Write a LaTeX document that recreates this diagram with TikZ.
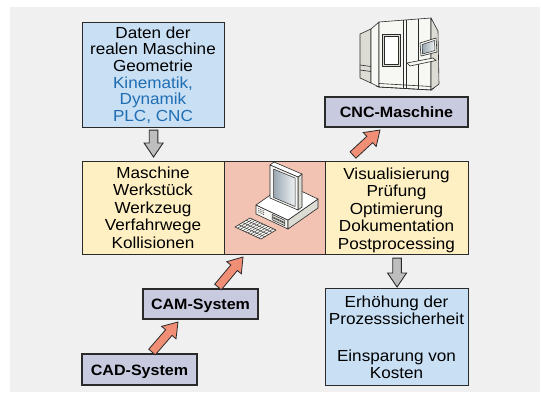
\documentclass[tikz,border=0pt]{standalone}
\usepackage{fontspec}
\setmainfont{Liberation Sans}[FakeStretch=1.07]
\usetikzlibrary{calc}

\definecolor{bgGray}{HTML}{F0F0F0}
\definecolor{infoBlue}{HTML}{C8DFF4}
\definecolor{textBlue}{HTML}{1F6EB4}
\definecolor{taskYellow}{HTML}{FEF0C3}
\definecolor{pcPink}{HTML}{F2C3B2}
\definecolor{sysLilac}{HTML}{C8CADF}
\definecolor{flowOrange}{HTML}{F08F76}
\definecolor{flowGray}{HTML}{BEBEBE}
\definecolor{edge}{HTML}{2A2A2A}
\definecolor{iconWhite}{HTML}{F7F7F3}
\definecolor{iconSide}{HTML}{DCDCD4}
\definecolor{glassDark}{HTML}{9AA6B0}
\definecolor{glassLight}{HTML}{EEF2F4}

% fat block arrow from #2 to #3 with style #1
\newcommand\blockarrow[3]{%
  \draw[#1] let \p1=($(#3)-(#2)$), \n1={atan2(\y1,\x1)} in
    ($(#2)+({\n1+90}:4.3pt)$)
    -- ($(#3)!14pt!(#2)+({\n1+90}:4.3pt)$)
    -- ($(#3)!14pt!(#2)+({\n1+90}:9.5pt)$)
    -- (#3)
    -- ($(#3)!14pt!(#2)+({\n1-90}:9.5pt)$)
    -- ($(#3)!14pt!(#2)+({\n1-90}:4.3pt)$)
    -- ($(#2)+({\n1-90}:4.3pt)$) -- cycle;}

\tikzset{
  box/.style={draw=edge, line width=1.1pt, inner sep=0pt, anchor=north west},
  txt/.style={inner sep=0pt, align=center, anchor=north,
              font=\fontsize{16pt}{16.6pt}\selectfont},
  txtwide/.style={txt, font=\fontsize{16pt}{17.5pt}\selectfont},
  sysbox/.style={draw=edge, line width=1.1pt, fill=sysLilac, inner sep=0pt,
                 font=\bfseries\fontsize{15pt}{17pt}\selectfont,
                 text height=11pt, text depth=0pt},
  orangeflow/.style={fill=flowOrange, draw=edge, line width=0.8pt, line join=miter},
  grayflow/.style={fill=flowGray, draw=edge, line width=0.9pt, line join=miter},
  icon/.style={draw=edge, line width=0.6pt, line join=round},
}

\begin{document}
\begin{tikzpicture}[x=1pt,y=-1pt]
\useasboundingbox (0,0) rectangle (541,392);
\fill[bgGray] (10,7) rectangle (539.5,392);

% ---------- boxes ----------
\node[box, fill=infoBlue, minimum width=142pt, minimum height=105pt] (daten) at (82,22) {};
\node[txt] (datenTxt) at (153,26.5) {Daten der\\realen Maschine\\Geometrie\\
  \textcolor{textBlue}{Kinematik,}\\\textcolor{textBlue}{Dynamik}\\\textcolor{textBlue}{PLC, CNC}};

\node[box, fill=taskYellow, minimum width=142pt, minimum height=93pt] (modell) at (82,161) {};
\node[txtwide] (modellTxt) at (153,166.3) {Maschine\\Werkstück\\Werkzeug\\Verfahrwege\\Kollisionen};

\node[box, fill=pcPink, minimum width=101pt, minimum height=93pt] (pc) at (224,161) {};

\node[box, fill=taskYellow, minimum width=143pt, minimum height=93pt] (nutzen) at (325,161) {};
\node[txtwide] (nutzenTxt) at (396.5,167.3) {Visualisierung\\Prüfung\\Optimierung\\Dokumentation\\Postprocessing};

\node[box, fill=infoBlue, minimum width=143pt, minimum height=97pt] (ergebnis) at (325,288) {};
\node[txt, font=\fontsize{16pt}{17pt}\selectfont] (ergebnisTxt) at (396.5,295.5)
  {Erhöhung der\\Prozesssicherheit\\[20pt]Einsparung von\\Kosten};

\node[sysbox, minimum width=143pt, minimum height=30pt] (cnc) at (396.5,112) {CNC-Maschine};
\node[sysbox, minimum width=115pt, minimum height=30pt] (cam) at (200.5,304) {CAM-System};
\node[sysbox, minimum width=115pt, minimum height=31pt] (cad) at (139.5,369.5) {CAD-System};

% ---------- flow arrows ----------
\coordinate (g1a) at ($(daten.south)+(0,2)$);
\coordinate (g1b) at ($(modell.north)+(0,-4)$);
\blockarrow{grayflow}{g1a}{g1b}
\coordinate (g2a) at ($(nutzen.south)+(0,3)$);
\coordinate (g2b) at ($(ergebnis.north)+(0,-1)$);
\blockarrow{grayflow}{g2a}{g2b}

\coordinate (o1a) at (353,155);
\coordinate (o1b) at (380,130);
\blockarrow{orangeflow}{o1a}{o1b}
\coordinate (o2a) at (218,287);
\coordinate (o2b) at (243,257);
\blockarrow{orangeflow}{o2a}{o2b}
\coordinate (o3a) at (152,352);
\coordinate (o3b) at (178,322);
\blockarrow{orangeflow}{o3a}{o3b}

% ---------- computer ----------
\begin{scope}[icon]
  % keyboard
  \coordinate (kT) at (250,218);
  \coordinate (kL) at (235,227);
  \coordinate (kR) at (276,230);
  \coordinate (kF) at (261,239);
  \filldraw[fill=iconWhite] (kT) -- (kR) -- (kF) -- (kL) -- cycle;
  \foreach \f in {0.25,0.5,0.75}
    \draw[line width=0.4pt] ($(kT)!\f!(kL)$) -- ($(kR)!\f!(kF)$);
  \foreach \f in {0.1,0.2,...,0.9}
    \draw[line width=0.4pt] ($(kT)!\f!(kR)$) -- ($(kL)!\f!(kF)$);
  % case
  \filldraw[fill=iconWhite] (256,205) -- (288,220) -- (288,229) -- (256,214) -- cycle;
  \filldraw[fill=iconSide] (288,220) -- (318,199) -- (318,208) -- (288,229) -- cycle;
  \filldraw[fill=white] (256,205) -- (286,184) -- (318,199) -- (288,220) -- cycle;
  \foreach \s in {0.07,0.12,0.17,0.22}
    \foreach \t in {0.25,0.45,0.65}
      \draw[line width=0.5pt] ({256+32*\s},{205+15*\s+9*\t}) -- ({256+32*(\s+0.03)},{205+15*(\s+0.03)+9*\t});
  \filldraw[fill=iconSide, line width=0.5pt] (272,214.3) -- (284.8,220.3) -- (284.8,222.55) -- (272,216.55) -- cycle;
  \filldraw[fill=iconSide, line width=0.5pt] (272,217.45) -- (284.8,223.45) -- (284.8,225.7) -- (272,219.7) -- cycle;
  % monitor
  \filldraw[fill=iconSide] (298,177) -- (302,174) -- (302,207) -- (298,210) -- cycle;
  \filldraw[fill=white] (270,165) -- (274,162) -- (302,174) -- (298,177) -- cycle;
  \filldraw[fill=iconWhite] (270,165) -- (298,177) -- (298,210) -- (270,198) -- cycle;
  \draw[left color=glassDark, right color=glassLight, line width=0.5pt]
    (273.5,169) -- (295,178) -- (295,206.5) -- (273.5,197.5) -- cycle;
\end{scope}

% ---------- CNC machine ----------
\begin{scope}[icon]
  \filldraw[fill=iconSide] (360,34) -- (371,29) -- (371,83) -- (360,78) -- cycle;
  \draw (360,65) -- (371,66.5);
  \draw (360,70) -- (371,71.5);
  \filldraw[fill=iconWhite] (371,29) -- (379,22) -- (379,87) -- (371,83) -- cycle;
  \filldraw[fill=iconWhite] (379,22) -- (431,18) -- (431,90) -- (379,87) -- cycle;
  \filldraw[fill=iconSide] (431,18) -- (438,31) -- (439,84) -- (431,90) -- cycle;
  \draw (403,20) -- (403,88.4);
  \draw (406,19.8) -- (406,88.6);
  \draw (418,19) -- (418,89.3);
  \draw (379,83.5) -- (431,86.5);
  \draw (376,86) -- (379,87) -- (431,90) -- (434,88);
  % door window
  \filldraw[fill=iconSide] (382,34) rectangle (400,66);
  \filldraw[fill=white, line width=0.5pt] (384,36) rectangle (398,64);
  % control panel
  \filldraw[fill=iconWhite] (407,63) -- (433,58) -- (436,60.5) -- (410,66) -- cycle;
  \filldraw[fill=iconWhite] (420,43) -- (436,38) -- (437,52) -- (421,56) -- cycle;
  \draw[left color=glassDark, right color=glassLight, line width=0.5pt]
    (422,44.5) -- (434.5,40.5) -- (435,50.5) -- (422.5,54) -- cycle;
\end{scope}
\end{tikzpicture}
\end{document}
